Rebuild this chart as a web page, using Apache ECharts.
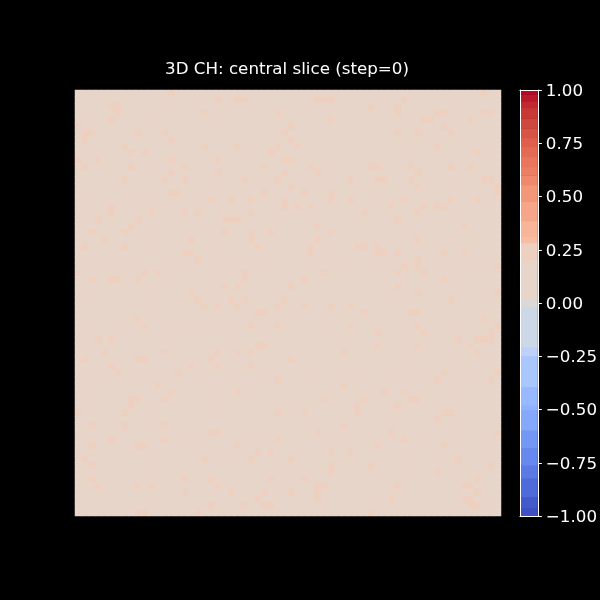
<!DOCTYPE html>
<html>
<head>
<meta charset="utf-8">
<script src="https://cdn.jsdelivr.net/npm/echarts@6/dist/echarts.min.js"></script>
<style>
  html, body { margin: 0; padding: 0; background: #000; }
  #chart { width: 600px; height: 600px; }
</style>
</head>
<body>
<div id="chart"></div>
<script>
// ---------------- DATA ----------------
const titleText = '3D CH: central slice (step=0)';

// 64 x 64 slice, top row first.
// '.' = background level, '+' = slightly higher speckle level
const fieldRows = [
  "........ ......+. ........ ........ ........ ........ ........ .....+..",
  "........ ........ .....+.. ++...... ....+++. ........ .+...... ........",
  ".....++. ........ ........ ........ ........ ....+... +....... ........",
  "......+. ........ ...+.... ......+. ........ ........ +.....++ .....++.",
  ".....+.. ........ ........ ........ ......+. ........ ....++.. ...+....",
  "+....... ........ ........ ........ +....... ........ .......+ ........",
  ".++..... .+...+.. ........ .......+ ........ ........ +..+.... +.......",
  ".+...... ......+. ........ ........ +....... ........ ........ ........",
  ".......+ ........ ...+.... +.....+. .+...... ........ ......+. ........",
  "........ +.+..... ........ .....+.. ........ ........ ........ ....+...",
  "+..+.... ......+. .....+.. .......+ +....... ........ ........ ........",
  ".+...... +....... +....... ....+... ...+.... ....++.. ..+..... +..+....",
  "........ ......+. .....+.. .......+ ....+... ........ ...+.... ........",
  ".......+ .....+.. +....... .+....+. ........ .+...++. ..+..... .....++.",
  "........ ........ ........ ........ +....... ........ ...+.... .......+",
  "........ ......++ ........ ....+... ..+...+. ........ ........ .......+",
  "........ ........ ....+..+ ..+....+ ......+. .+...... .+...... +...+...",
  ".....+.. ........ ........ .......+ .+.+.... .......+ ....+.++ ........",
  ".....+.. ...+.... +.+..... ..+..... ........ ...+.... ...+.... ........",
  "...+.... .+...... ......++ +....... ........ ........ +....... ........",
  "........ +....... ........ ........ ....+... ........ ........ ..+.....",
  "..+....+ ........ ......+. ..+..+.. ......+. ........ ........ ........",
  "....+... ........ .+...... ..+..... ....+... ........ ...+.... ........",
  ".+.....+ ........ ........ ...+.... ...+.... ..++.+.. ........ ........",
  "........ ........ ++...... ........ ...+.... .....++. +......+ ..+.....",
  "........ ........ ..+..... ........ ........ ........ ...+.... ........",
  "........ ........ ........ ........ ........ ........ .+.+.... .......+",
  "+....... ..+.+... ........ .+...... .....+.. ........ +...+... ........",
  "..+..++. .+...... ........ .+...... ..+..... ........ .......+ ........",
  "........ ........ ......+. +....... +....... ........ +....... ........",
  "........ ........ .+...... ........ ........ ........ ...+.... .......+",
  "........ ........ ..+....+ .+.....+ ........ ........ ........ +.......",
  "........ ........ ...+.+.. +.....+. ..+...+. .+...... ........ ........",
  "........ ........ ........ ...++... ........ ...+.... ..++.... ........",
  "........ .+...... ........ ........ ........ ........ ........ .....+..",
  "........ ..+..... ........ ..+...+. ........ .+...... ...+.... .......+",
  "........ ........ ........ ........ ........ .....+.. ....+... ......+.",
  "...+.+.. ........ ........ ........ ........ ........ ........ .+..+++.",
  "........ ........ ........ ...++... ........ .....+.. ...+.... ...+....",
  "....+... .....+.. .....+.. +.+..... ........ +....... ........ ....+...",
  ".+...... .++..... ....+... ........ +....... ........ ........ ........",
  ".....+.. ........ .+...+.. ..+..... ........ ........ ........ ........",
  "......+. .......+ ........ ........ ........ ........ .......+ .......+",
  "........ ........ ........ ......+. ........ ........ ......+. ......+.",
  "........ ....+... ........ ........ ........ +....... ........ ........",
  "........ ......+. ........ +....... ........ ......+. .+...... ........",
  "........ ++...+.. ........ ........ .....+.. ...+.... ..++.... ........",
  "........ +....... ........ ........ ........ ..+..... +....... ........",
  "+......+ ........ ........ ......+. ..+..... ..+..... .......+ +.......",
  "........ ........ ........ ........ ........ ........ ......+. ........",
  "..+....+ .....+.. ........ ........ ........ +....... ........ ........",
  "........ ........ ....++.. ........ ....+... .......+ ........ .......+",
  ".....+.. .....+.. ........ ......+. ........ ........ .+...... ........",
  "..+..... .++..... ........ +....... ........ .....+.. .......+ ........",
  "........ ........ ........ ...+.+.. ......+. .+...... ........ ........",
  ".+...... ........ ...+.... ..+..... +....... ........ ........ .+......",
  "..+..... ........ ........ ........ ......+. ....+... ........ ......+.",
  "........ ........ ........ ........ ......+. ........ ......+. ........",
  "..+..... ........ +...+... .....+.. ..+..... ........ ........ ....+...",
  "...+.... .+.+.... .....+.. ........ ....++.. ........ +....... ..++....",
  "........ ........ +......+ ....+... +...+... ........ ........ ....+...",
  "........ ........ ........ ...+.... ....+... .......+ ........ ..++....",
  "........ ........ ....+... .+..++.. ........ ........ ........ ...++...",
  "........ .++..... ..+..... ........ ........ ....+... ........ ........"
];
const levelValues = { '.': 0.10, '+': 0.24 };

// colour bar: tick values and band edges (as drawn in the reference)
const cbTicks = [-1, -0.75, -0.5, -0.25, 0, 0.25, 0.5, 0.75, 1];
const bandEdges = [-1.0, -0.963, -0.909, -0.823, -0.76, -0.682, -0.596, -0.502, -0.479,
  -0.393, -0.247, -0.205, -0.017, 0.02, 0.202, 0.283, 0.311, 0.386, 0.476, 0.554,
  0.60, 0.64, 0.687, 0.734, 0.776, 0.82, 0.867, 0.917, 0.948, 0.98, 1.0];

// ---------------- STYLE ----------------
const bandColors = ['#3e50c4', '#445acc', '#4f6ad9', '#5b7ae4', '#6788ee', '#7497f5',
  '#85a7fc', '#8fb1fe', '#98b9ff', '#aac7fd', '#bdd2f6', '#ccd8e8', '#dad9d7',
  '#e8d5ca', '#edd0bf', '#f7bda3', '#f7b599', '#f6a688', '#f49778', '#f0886b',
  '#ec7e63', '#e8755c', '#e36a54', '#de5f4c', '#d75445', '#d0473d', '#c83936',
  '#c12a2f', '#bb192b', '#b60a27'];
const FONT = 'DejaVu Sans';

// ---------------- BUILD ----------------
const grid = fieldRows.map(r => r.replace(/ /g, ''));
const nRows = grid.length, nCols = grid[0].length;
const heatData = [];
grid.forEach((row, r) => {
  for (let c = 0; c < row.length; c++) heatData.push([c, r, levelValues[row[c]]]);
});
const xCats = Array.from({ length: nCols }, (_, i) => i);
const yCats = Array.from({ length: nRows }, (_, i) => i);

const pieces = [];
const bandData = [];
for (let i = 0; i < bandEdges.length - 1; i++) {
  pieces.push({ gte: bandEdges[i], lt: bandEdges[i + 1], color: bandColors[i] });
  bandData.push([bandEdges[i], bandEdges[i + 1], i]);
}
pieces[pieces.length - 1].lte = 1.0; delete pieces[pieces.length - 1].lt;

const fmt = v => {
  const s = Math.abs(v).toFixed(2);
  return '{v|' + (v < 0 ? '\u2212' + s : s) + '}';
};

const chart = echarts.init(document.getElementById('chart'), null, { renderer: 'canvas' });
chart.setOption({
  backgroundColor: '#000000',
  animation: false,
  title: {
    text: titleText,
    left: 282, top: 56, textAlign: 'center',
    textStyle: { color: '#ffffff', fontFamily: FONT, fontSize: 16.7, fontWeight: 'normal' }
  },
  grid: [
    { left: 75, top: 90, width: 426, height: 426, show: true, backgroundColor: '#e8d5ca', borderWidth: 0 },
    { left: 520, top: 90, width: 20, height: 426, show: false }
  ],
  xAxis: [
    { type: 'category', gridIndex: 0, data: xCats, show: false },
    { type: 'value', gridIndex: 1, min: 0, max: 1, position: 'bottom', z: 5,
      axisLine: { show: true, onZero: false, lineStyle: { color: '#ffffff', width: 1 } },
      axisTick: { show: false }, axisLabel: { show: false }, splitLine: { show: false } },
    { type: 'value', gridIndex: 1, min: 0, max: 1, position: 'top', z: 5,
      axisLine: { show: true, onZero: false, lineStyle: { color: '#ffffff', width: 1 } },
      axisTick: { show: false }, axisLabel: { show: false }, splitLine: { show: false } }
  ],
  yAxis: [
    { type: 'category', gridIndex: 0, data: yCats, inverse: true, show: false },
    { type: 'value', gridIndex: 1, min: -1, max: 1, interval: 0.25, position: 'right', z: 5,
      axisLine: { show: true, onZero: false, lineStyle: { color: '#ffffff', width: 1 } },
      axisTick: { show: true, length: 4, lineStyle: { color: '#ffffff', width: 1 } },
      axisLabel: { show: true, margin: 8, formatter: fmt,
        rich: { v: { color: '#ffffff', fontFamily: FONT, fontSize: 16.7, padding: [3, 0, 0, 0] } } },
      splitLine: { show: false } },
    { type: 'value', gridIndex: 1, min: -1, max: 1, position: 'left', z: 5,
      axisLine: { show: true, onZero: false, lineStyle: { color: '#ffffff', width: 1 } },
      axisTick: { show: false }, axisLabel: { show: false }, splitLine: { show: false } }
  ],
  visualMap: {
    type: 'piecewise', show: false, seriesIndex: 0, dimension: 2, pieces: pieces
  },
  series: [
    {
      type: 'heatmap', xAxisIndex: 0, yAxisIndex: 0, data: heatData,
      itemStyle: { borderWidth: 0 }, emphasis: { disabled: true }, progressive: 0
    },
    {
      type: 'custom', xAxisIndex: 1, yAxisIndex: 1, data: bandData,
      encode: { y: [0, 1] },
      renderItem: function (params, api) {
        const lo = api.value(0), hi = api.value(1), idx = api.value(2);
        const pTop = api.coord([0, hi]);
        const pBot = api.coord([1, lo]);
        return {
          type: 'rect',
          shape: { x: pTop[0], y: pTop[1], width: pBot[0] - pTop[0], height: pBot[1] - pTop[1] + 0.5 },
          style: { fill: bandColors[idx], stroke: null }
        };
      }
    }
  ]
});
</script>
</body>
</html>
